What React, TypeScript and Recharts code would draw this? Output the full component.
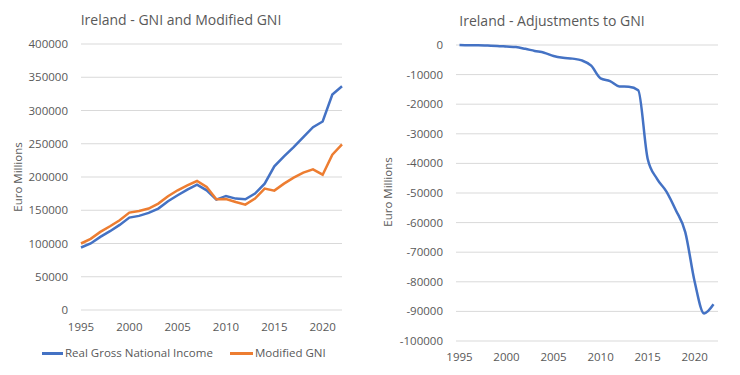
import React from 'react';
import { LineChart, Line, XAxis, YAxis, CartesianGrid } from 'recharts';

const years = [1995, 1996, 1997, 1998, 1999, 2000, 2001, 2002, 2003, 2004, 2005, 2006, 2007, 2008, 2009, 2010, 2011, 2012, 2013, 2014, 2015, 2016, 2017, 2018, 2019, 2020, 2021, 2022];
const gni = [94000, 100000, 110000, 118500, 128000, 139000, 141500, 146000, 152500, 163500, 172500, 181000, 188500, 180000, 166000, 171500, 167500, 166500, 175000, 190000, 216000, 231000, 245000, 260000, 275000, 283500, 324000, 336500];
const modifiedGni = [100000, 107000, 117500, 126000, 135000, 146500, 149000, 152500, 160000, 171000, 180000, 187500, 194000, 185000, 166500, 167000, 162500, 158500, 167500, 182500, 179500, 190000, 199000, 206500, 211500, 203500, 233500, 249000];
const adjustments = [0, -100, -100, -200, -300, -500, -700, -1300, -2000, -2600, -3700, -4300, -4600, -5200, -7000, -11300, -12200, -14000, -14100, -15300, -38400, -45200, -49500, -55800, -63200, -80000, -90700, -87600];

const leftTicks = [0, 50000, 100000, 150000, 200000, 250000, 300000, 350000, 400000];
const rightTicks = [0, -10000, -20000, -30000, -40000, -50000, -60000, -70000, -80000, -90000, -100000];
const xTicks = [1995, 2000, 2005, 2010, 2015, 2020];

const leftData = years.map((y, i) => ({ year: y, gni: gni[i], mgni: modifiedGni[i] }));
const rightData = years.map((y, i) => ({ year: y, adj: adjustments[i] }));

const BLUE = '#4472C4';
const ORANGE = '#ED7D31';
const GRID = '#d9d9d9';
const TEXT = '#595959';
const tickStyle = { fill: TEXT, fontSize: 11.5 };

export default function App() {
  return (
    <div style={{ position: 'absolute', left: 0, top: 0, width: 740, height: 375, background: '#fff', fontFamily: '"Open Sans", sans-serif', color: TEXT }}>
      <div style={{ position: 'absolute', left: 0, top: 10, width: 362, textAlign: 'center', fontSize: 14, lineHeight: '20px' }}>Ireland - GNI and Modified GNI</div>
      <div style={{ position: 'absolute', left: 367, top: 11, width: 370, textAlign: 'center', fontSize: 14, lineHeight: '20px' }}>Ireland - Adjustments to GNI</div>

      <div style={{ position: 'absolute', left: 18 - 60, top: 177 - 8, width: 120, height: 16, lineHeight: '16px', textAlign: 'center', fontSize: 11.5, transform: 'rotate(-90deg)' }}>Euro Millions</div>
      <div style={{ position: 'absolute', left: 388 - 60, top: 192 - 8, width: 120, height: 16, lineHeight: '16px', textAlign: 'center', fontSize: 11.5, transform: 'rotate(-90deg)' }}>Euro Millions</div>

      <div style={{ position: 'absolute', left: 0, top: 0 }}>
        <LineChart width={370} height={375} data={leftData} margin={{ top: 44, right: 28, bottom: 40, left: 21 }}>
          <CartesianGrid vertical={false} stroke={GRID} strokeWidth={1} />
          <XAxis dataKey="year" type="number" domain={[1995, 2022]} ticks={xTicks} axisLine={false} tickLine={false} tick={tickStyle} tickMargin={7} height={25} interval={0} />
          <YAxis type="number" domain={[0, 400000]} ticks={leftTicks} axisLine={false} tickLine={false} tick={tickStyle} tickMargin={7} width={60} interval={0} />
          <Line dataKey="gni" stroke={BLUE} strokeWidth={2.5} dot={false} isAnimationActive={false} type="linear" />
          <Line dataKey="mgni" stroke={ORANGE} strokeWidth={2.5} dot={false} isAnimationActive={false} type="linear" />
        </LineChart>
      </div>

      <div style={{ position: 'absolute', left: 370, top: 0 }}>
        <LineChart width={370} height={375} data={rightData} margin={{ top: 45, right: 22, bottom: 9, left: 26 }}>
          <CartesianGrid vertical={false} stroke={GRID} strokeWidth={1} />
          <XAxis dataKey="year" type="number" domain={[1994.63, 2022.48]} allowDataOverflow ticks={xTicks} axisLine={false} tickLine={false} tick={tickStyle} tickMargin={6} height={25} interval={0} />
          <YAxis type="number" domain={[-100000, 0]} ticks={rightTicks} axisLine={false} tickLine={false} tick={tickStyle} tickMargin={7} width={60} interval={0} />
          <Line dataKey="adj" stroke={BLUE} strokeWidth={2.5} dot={false} isAnimationActive={false} type="monotone" />
        </LineChart>
      </div>

      <div style={{ position: 'absolute', left: 42, top: 352, width: 21, height: 2.5, background: BLUE }} />
      <div style={{ position: 'absolute', left: 65, top: 345, fontSize: 11.5, lineHeight: '16px', whiteSpace: 'nowrap' }}>Real Gross National Income</div>
      <div style={{ position: 'absolute', left: 230, top: 352, width: 23, height: 2.5, background: ORANGE }} />
      <div style={{ position: 'absolute', left: 255, top: 345, fontSize: 11.5, lineHeight: '16px', whiteSpace: 'nowrap' }}>Modified GNI</div>
    </div>
  );
}
